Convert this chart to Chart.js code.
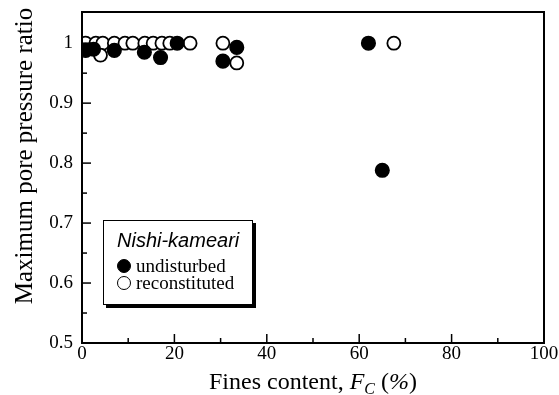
<!DOCTYPE html>
<html>
<head>
<meta charset="utf-8">
<script src="https://cdn.jsdelivr.net/npm/chart.js@4"></script>
<style>
  html, body { margin: 0; padding: 0; background: #fff; }
  #wrap { position: relative; width: 559px; height: 395px; }
  #legendBox {
    position: absolute; left: 103px; top: 220px; width: 148px; height: 83px;
    border: 1.5px solid #000; background: #fff;
    box-shadow: 3px 3px 0 #000;
    font-family: "Liberation Serif", serif; color: #000;
  }
  #legendBox .ttl { font-family: "Liberation Sans", sans-serif; font-style: italic; font-size: 20px; line-height: 20px; position: absolute; left: 13px; top: 9px; white-space: nowrap; }
  #legendBox .row { position: absolute; left: 13px; font-size: 19px; line-height: 18px; white-space: nowrap; }
  #legendBox .mk { display: inline-block; width: 14px; height: 14px; border-radius: 50%; border: 1.5px solid #000; box-sizing: border-box; margin-right: 5px; vertical-align: -1px; }
</style>
</head>
<body>
<div id="wrap">
  <canvas id="myChart" width="559" height="395"></canvas>
  <div id="legendBox">
    <div class="ttl">Nishi-kameari</div>
    <div class="row" style="top:36px"><span class="mk" style="background:#000"></span>undisturbed</div>
    <div class="row" style="top:53px"><span class="mk" style="background:#fff"></span>reconstituted</div>
  </div>
</div>
<script>
// fines content (%) and max pore pressure ratio
var undisturbedX = [0.8, 2.5, 7, 13.5, 17, 20.6, 30.5, 33.5, 62, 65];
var undisturbedY = [0.988, 0.99, 0.988, 0.985, 0.976, 1.0, 0.97, 0.993, 1.0, 0.788];

var reconstitutedX = [0.8, 3, 4.5, 7, 9.3, 11, 13.6, 15.4, 17.3, 19, 23.4, 4, 30.5, 33.5, 67.5];
var reconstitutedY = [1.0, 1.0, 1.0, 1.0, 1.0, 1.0, 1.0, 1.0, 1.0, 1.0, 1.0, 0.98, 1.0, 0.967, 1.0];

var xTicks = [0, 20, 40, 60, 80, 100];
var yTicks = [0.5, 0.6, 0.7, 0.8, 0.9, 1];

var yTitle = "Maximum pore pressure ratio";

function toPoints(xs, ys) {
    var pts = [];
    for (var i = 0; i < xs.length; i++) pts.push({ x: xs[i], y: ys[i] });
    return pts;
}

// inward tick marks, frame and both axis titles (x title has italic F and subscript C)
var frameTicks = {
    id: 'frameTicks',
    afterDraw: function (chart) {
        var ctx = chart.ctx;
        var a = chart.chartArea;
        var xs = chart.scales.x, ys = chart.scales.y;
        ctx.save();
        ctx.strokeStyle = '#000';
        ctx.lineWidth = 2;
        ctx.strokeRect(a.left, a.top, a.right - a.left, a.bottom - a.top);
        ctx.lineWidth = 1.5;
        for (var v = 0; v <= 100; v += 10) {
            var px = xs.getPixelForValue(v);
            var len = (v % 20 === 0) ? 9 : 5;
            ctx.beginPath(); ctx.moveTo(px, a.bottom); ctx.lineTo(px, a.bottom - len); ctx.stroke();
        }
        for (var k = 0; k <= 10; k++) {
            var val = 0.5 + k * 0.05;
            var py = ys.getPixelForValue(val);
            var l2 = (k % 2 === 0) ? 9 : 5;
            ctx.beginPath(); ctx.moveTo(a.left, py); ctx.lineTo(a.left + l2, py); ctx.stroke();
        }

        var parts = [
            { t: "Fines content, ", f: "24px 'Liberation Serif'", dy: 0 },
            { t: "F", f: "italic 24px 'Liberation Serif'", dy: 0 },
            { t: "C", f: "italic 16px 'Liberation Serif'", dy: 5 },
            { t: " (", f: "24px 'Liberation Serif'", dy: 0 },
            { t: "%", f: "italic 24px 'Liberation Serif'", dy: 0 },
            { t: ")", f: "24px 'Liberation Serif'", dy: 0 }
        ];
        var total = 0;
        parts.forEach(function (p) { ctx.font = p.f; p.w = ctx.measureText(p.t).width; total += p.w; });
        var cx = (a.left + a.right) / 2 - total / 2;
        var base = 389;
        ctx.fillStyle = '#000';
        ctx.textBaseline = 'alphabetic';
        ctx.textAlign = 'left';
        parts.forEach(function (p) { ctx.font = p.f; ctx.fillText(p.t, cx, base + p.dy); cx += p.w; });

        ctx.translate(32, 156);
        ctx.rotate(-Math.PI / 2);
        ctx.textAlign = 'center';
        ctx.font = "25px 'Liberation Serif'";
        ctx.fillText(yTitle, 0, 0);
        ctx.restore();
    }
};

new Chart("myChart", {
    type: "scatter",
    data: {
        datasets: [{
            label: "undisturbed",
            data: toPoints(undisturbedX, undisturbedY),
            backgroundColor: "#000",
            borderColor: "#000",
            borderWidth: 1.5,
            pointRadius: 6.8,
            pointHoverRadius: 6.8
        }, {
            label: "reconstituted",
            data: toPoints(reconstitutedX, reconstitutedY),
            backgroundColor: "#fff",
            borderColor: "#000",
            borderWidth: 1.8,
            pointRadius: 6.5,
            pointHoverRadius: 6.5
        }]
    },
    options: {
        responsive: false,
        animation: false,
        layout: { padding: { top: 12, right: 15, left: 0, bottom: 0 } },
        plugins: {
            legend: { display: false },
            tooltip: { enabled: false }
        },
        scales: {
            x: {
                type: "linear",
                min: 0, max: 100,
                grid: { display: false, drawTicks: false },
                border: { display: false },
                afterBuildTicks: function (s) { s.ticks = xTicks.map(function (v) { return { value: v }; }); },
                afterFit: function (s) { s.height = 52; s.paddingLeft = 0; s.paddingRight = 0; },
                ticks: {
                    color: "#000", padding: 0, maxRotation: 0,
                    font: { family: "Liberation Serif", size: 19 }
                },
                title: { display: false }
            },
            y: {
                min: 0.5, max: 1.052,
                grid: { display: false, drawTicks: false },
                border: { display: false },
                afterBuildTicks: function (s) { s.ticks = yTicks.map(function (v) { return { value: v }; }); },
                afterFit: function (s) { s.width = 82; s.paddingTop = 0; s.paddingBottom = 0; },
                ticks: {
                    color: "#000", padding: 9,
                    font: { family: "Liberation Serif", size: 19 },
                    callback: function (v) { return v === 1 ? "1" : v.toFixed(1); }
                },
                title: { display: false }
            }
        }
    },
    plugins: [frameTicks]
});
</script>
</body>
</html>
